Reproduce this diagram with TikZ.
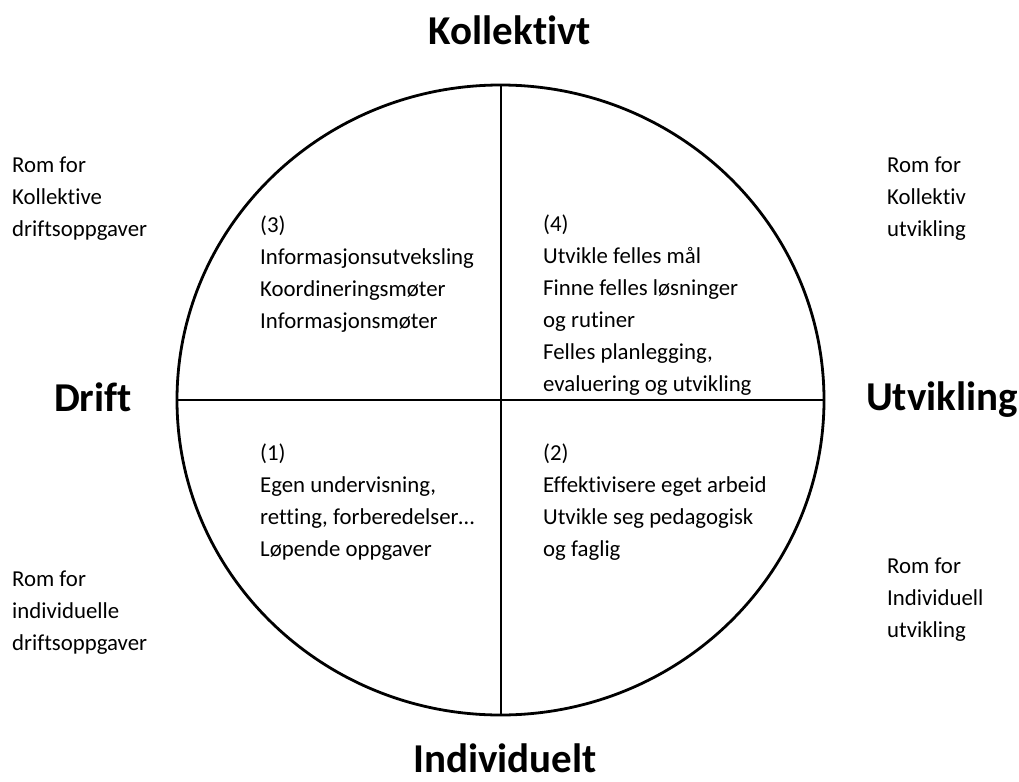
\documentclass[tikz,border=0pt]{standalone}
\usepackage{fontspec}
\setmainfont{Carlito}[Ligatures=NoCommon]
\newcommand\celltext[1]{\begin{tabular}[t]{@{}l@{}}#1\end{tabular}}
\begin{document}
\begin{tikzpicture}[x=1pt,y=-1pt,line join=round,line cap=round,
	big/.style={font=\fontsize{41}{44}\selectfont\bfseries,anchor=base,inner sep=0pt},
	txt/.style={font=\fontsize{22.8}{32}\selectfont,anchor=base west,inner sep=0pt}]
	\useasboundingbox (0,0) rectangle (1019,781);
	\def\rx{323.5}
	\def\ry{315}
	\path 
	(500.5,400) coordinate (O)
	(O) +(-\rx,0) coordinate (w)
	(O) +(\rx,0) coordinate (e)
	(O) +(0,-\ry) coordinate (n)
	(O) +(0,\ry) coordinate (s)
	;
	\draw[line width=2.8pt] (O) ellipse [x radius=\rx pt,y radius=\ry pt];
	\draw[line width=2pt] (w)--(e) (n)--(s);
	% axes
	\node[big] (kollektivt) at (510,45) {Kollektivt};
	\node[big] (individuelt) at (505,772) {Individuelt};
	\node[big] (drift) at (93,411) {Drift};
	\node[big] (utvikling) at (942,410) {Utvikling};
	% quadrants
	\node[txt] (q3) at (260,232) {\celltext{(3)\\Informasjonsutveksling\\Koordineringsmøter\\Informasjonsmøter}};
	\node[txt] (q4) at (543,231) {\celltext{(4)\\Utvikle felles mål\\Finne felles løsninger\\og rutiner\\Felles planlegging,\\evaluering og utvikling}};
	\node[txt] (q1) at (260,460) {\celltext{(1)\\Egen undervisning,\\retting, forberedelser…\\Løpende oppgaver}};
	\node[txt] (q2) at (543,460) {\celltext{(2)\\Effektivisere eget arbeid\\Utvikle seg pedagogisk\\og faglig}};
	% rooms
	\foreach \n/\x/\y/\t in {kd/12/172/{Rom for\\Kollektive\\driftsoppgaver},
		id/12/586/{Rom for\\individuelle\\driftsoppgaver},
		ku/887/172/{Rom for\\Kollektiv\\utvikling},
		iu/887/573/{Rom for\\Individuell\\utvikling}}
	\node[txt] (\n) at (\x,\y) {\celltext{\t}};
\end{tikzpicture}
\end{document}
